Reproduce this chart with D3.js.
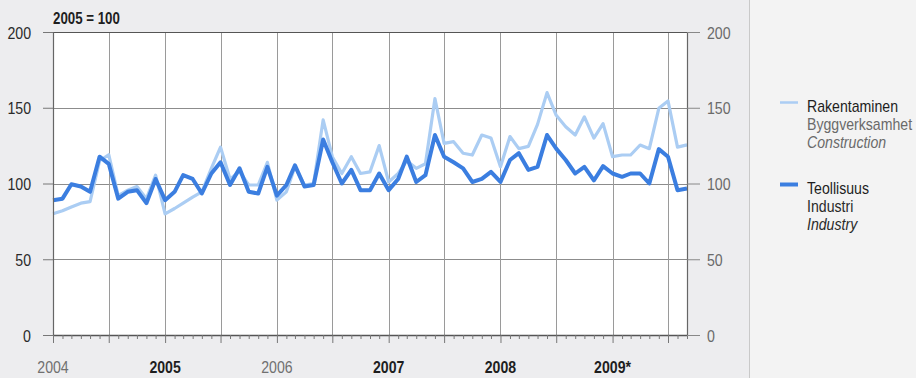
<!DOCTYPE html>
<html>
<head>
<meta charset="utf-8">
<script src="https://cdn.jsdelivr.net/npm/d3@7"></script>
<style>
  html, body { margin: 0; padding: 0; background: #ededef; }
  svg { display: block; }
  text { font-family: "Liberation Sans", Arial, sans-serif; }
</style>
</head>
<body>
<svg id="chart" width="916" height="378"></svg>
<script>
// ---- data ----
const startMonth = "2004-01";
const construction = [
  80, 82, 84.5, 87, 88, 115, 119, 92, 95.6, 98, 90, 105.5,
  80, 83.5, 87, 91, 94.5, 110, 124, 103, 108, 99, 99, 114,
  89, 94.5, 111, 99, 100, 142, 117.7, 106.6, 117.7, 106.6, 107.7, 125,
  101, 106.6, 115, 110, 113, 156, 126.5, 127.6, 120, 118.8, 132, 130,
  111, 131, 123, 124.5, 139, 160, 145, 137.5, 132, 144, 130, 139.5,
  117.7, 118.8, 118.8, 125.4, 123, 149.6, 154.5, 124, 125.5
];
const industry = [
  89, 90, 99.5, 98, 94.5, 117.7, 113, 90, 94.5, 95.6, 87, 103,
  89, 94.5, 105.5, 103, 93.4, 106.6, 114, 99, 110, 94.5, 93.4, 111,
  92, 99, 112, 98, 99, 129, 114, 100, 109, 95.6, 95.6, 106.6,
  95.6, 103, 117.7, 101, 105.5, 132, 117.7, 114, 110, 101, 103, 107.7,
  101, 115.5, 120, 109, 111, 132, 123, 115.5, 106.6, 111, 102, 111.5,
  106.6, 104.4, 106.6, 106.6, 100, 122.7, 117.7, 95.6, 96.7
];
const yTicks = [0, 50, 100, 150, 200];
const yearLabels = ["2004", "2005", "2006", "2007", "2008", "2009*"];
const legendItems = [
  { lines: ["Rakentaminen", "Byggverksamhet", "Construction"], key: "construction" },
  { lines: ["Teollisuus", "Industri", "Industry"], key: "industry" }
];
const baseLabel = "2005 = 100";

// ---- styles ----
const colors = { construction: "#abcdf3", industry: "#3b7ee0" };
const widths = { construction: 3.2, industry: 4 };
const condense = 0.83;

const svg = d3.select("#chart");
const W = 916, H = 378;
const plot = { left: 53, right: 687, top: 32, bottom: 335 };

// backgrounds
svg.append("rect").attr("x", 749).attr("y", 0).attr("width", W - 749).attr("height", H).attr("fill", "#f3f3f3");
svg.append("line").attr("x1", 749.5).attr("x2", 749.5).attr("y1", 0).attr("y2", H).attr("stroke", "#c9c9c9").attr("stroke-width", 1);
svg.append("rect").attr("x", plot.left).attr("y", plot.top).attr("width", plot.right - plot.left).attr("height", plot.bottom - plot.top).attr("fill", "#ffffff");

const parse = d3.timeParse("%Y-%m");
const t0 = parse(startMonth);
const dates = construction.map((_, i) => d3.timeMonth.offset(t0, i));
const tEnd = d3.timeMonth.offset(t0, 68);

const x = d3.scaleTime().domain([t0, tEnd]).range([plot.left, plot.right]);
const y = d3.scaleLinear().domain([0, 200]).range([plot.bottom, plot.top]);

// horizontal grid
svg.append("g").selectAll("line").data(yTicks.filter(v => v > 0 && v < 200)).join("line")
  .attr("x1", plot.left).attr("x2", plot.right)
  .attr("y1", d => Math.round(y(d)) + 0.5).attr("y2", d => Math.round(y(d)) + 0.5)
  .attr("stroke", "#8c8c8c").attr("stroke-width", 1);

// vertical grid at half-years
const halfYears = d3.timeMonth.every(6).range(t0, tEnd).filter(d => +d > +t0);
svg.append("g").selectAll("line").data(halfYears).join("line")
  .attr("x1", d => Math.round(x(d)) + 0.5).attr("x2", d => Math.round(x(d)) + 0.5)
  .attr("y1", plot.top).attr("y2", plot.bottom)
  .attr("stroke", "#9a9a9a").attr("stroke-width", 1);

// lines
const line = d3.line().x((d, i) => x(dates[i])).y(d => y(d)).curve(d3.curveLinear);
svg.append("path").datum(construction).attr("d", line)
  .attr("fill", "none").attr("stroke", colors.construction).attr("stroke-width", widths.construction)
  .attr("stroke-linejoin", "round");
svg.append("path").datum(industry).attr("d", line)
  .attr("fill", "none").attr("stroke", colors.industry).attr("stroke-width", widths.industry)
  .attr("stroke-linejoin", "round");

// frame
svg.append("line").attr("x1", plot.left - 10).attr("x2", plot.right + 13).attr("y1", plot.top + 0.5).attr("y2", plot.top + 0.5).attr("stroke", "#555").attr("stroke-width", 1.2);
svg.append("line").attr("x1", plot.left + 0.5).attr("x2", plot.left + 0.5).attr("y1", plot.top).attr("y2", plot.bottom).attr("stroke", "#666").attr("stroke-width", 1.2);
svg.append("line").attr("x1", plot.right + 0.5).attr("x2", plot.right + 0.5).attr("y1", plot.top).attr("y2", plot.bottom).attr("stroke", "#666").attr("stroke-width", 1.2);

// left axis
const leftAxis = d3.axisLeft(y).tickValues(yTicks).tickSize(10).tickSizeOuter(0).tickPadding(12).tickFormat(d3.format("d"));
const gL = svg.append("g").attr("transform", `translate(${plot.left},0)`).call(leftAxis);
gL.select(".domain").remove();
gL.selectAll(".tick line").attr("stroke", "#777");
gL.selectAll(".tick text").attr("class", "cond").attr("fill", "#2a2a2a").style("font-size", "17px").attr("dy", "0.36em");

// right axis
const rightAxis = d3.axisRight(y).tickValues(yTicks).tickSize(13).tickSizeOuter(0).tickPadding(7).tickFormat(d3.format("d"));
const gR = svg.append("g").attr("transform", `translate(${plot.right},0)`).call(rightAxis);
gR.select(".domain").remove();
gR.selectAll(".tick line").attr("stroke", "#888");
gR.selectAll(".tick text").attr("class", "cond").attr("fill", "#6a6a6a").style("font-size", "17px").attr("dy", "0.36em");

// bottom axis: monthly ticks
const monthTicks = d3.timeMonth.every(1).range(t0, d3.timeMonth.offset(tEnd, 1));
const bottomAxis = d3.axisBottom(x).tickValues(monthTicks).tickSize(4).tickSizeOuter(0).tickFormat("");
const gB = svg.append("g").attr("transform", `translate(0,${plot.bottom})`).call(bottomAxis);
gB.select(".domain").attr("stroke", "#555").attr("stroke-width", 1.5);
gB.selectAll(".tick line").attr("stroke", "#777")
  .attr("y2", d => (d.getMonth() % 6 === 0) ? 8 : 4);
svg.append("line").attr("x1", plot.left - 10).attr("x2", plot.left).attr("y1", plot.bottom + 0.5).attr("y2", plot.bottom + 0.5).attr("stroke", "#777");
svg.append("line").attr("x1", plot.right).attr("x2", plot.right + 13).attr("y1", plot.bottom + 0.5).attr("y2", plot.bottom + 0.5).attr("stroke", "#888");

// year labels
const yearStarts = yearLabels.map((lab, i) => d3.timeYear.offset(t0, i));
svg.append("g").selectAll("text").data(yearLabels).join("text")
  .attr("class", "cond")
  .attr("x", (d, i) => x(yearStarts[i]))
  .attr("y", 367)
  .attr("dy", "0.36em")
  .attr("text-anchor", "middle")
  .style("font-size", "17px")
  .attr("fill", (d, i) => (i === 0 || i === 2) ? "#707070" : "#1e1e1e")
  .style("font-weight", (d, i) => (i === 0 || i === 2) ? "normal" : "bold")
  .text(d => d);

// base label
svg.append("text").attr("class", "cond").attr("x", plot.left).attr("y", 18).attr("dy", "0.36em")
  .style("font-size", "16px").attr("fill", "#1e1e1e").style("font-weight", "bold").text(baseLabel);

// legend
const legendY = [102.5, 184.5];
legendItems.forEach((item, k) => {
  const g = svg.append("g");
  g.append("line").attr("x1", 780).attr("x2", 798).attr("y1", legendY[k]).attr("y2", legendY[k])
    .attr("stroke", colors[item.key]).attr("stroke-width", item.key === "industry" ? 4 : 2.5);
  item.lines.forEach((t, j) => {
    g.append("text").attr("class", "cond").attr("x", 807).attr("y", legendY[k] + 3 + j * 18)
      .attr("dy", "0.36em")
      .style("font-size", "17px")
      .style("font-style", j === 2 ? "italic" : "normal")
      .attr("fill", j === 0 ? "#1e1e1e" : (item.key === "industry" ? "#2a2a2a" : "#6a6a6a"))
      .text(t);
  });
});

// condense text horizontally (narrow typeface look)
svg.selectAll("text.cond").each(function () {
  const w = this.getComputedTextLength();
  d3.select(this).attr("textLength", (w * condense).toFixed(1)).attr("lengthAdjust", "spacingAndGlyphs");
});
</script>
</body>
</html>
